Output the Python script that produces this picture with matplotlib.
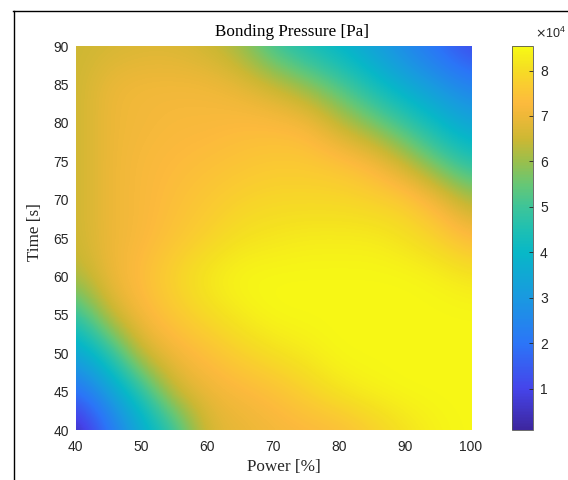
import numpy as np
import matplotlib
matplotlib.use("Agg")
import matplotlib.pyplot as plt
from matplotlib.colors import LinearSegmentedColormap
from matplotlib.lines import Line2D

# grid: columns = power, rows = time, values in 1e4 Pa
power = [40, 45, 50, 55, 60, 65, 70, 75, 80, 85, 90, 95, 100]
time_s = [40, 45, 50, 55, 60, 65, 70, 75, 80, 85, 90]
pressure_t40 = [0.09, 1.9, 3.5, 4.8, 6.7, 6.9, 7.1, 7.2, 7.3, 7.7, 8.1, 8.4, 8.5]
pressure_t45 = [1.8, 3.1, 4.7, 6.6, 7.0, 7.2, 7.4, 7.8, 8.2, 8.4, 8.5, 8.5, 8.5]
pressure_t50 = [3.3, 4.6, 6.6, 7.1, 7.4, 7.8, 8.1, 8.3, 8.5, 8.5, 8.5, 8.5, 8.5]
pressure_t55 = [4.7, 6.5, 7.2, 7.6, 8.0, 8.3, 8.5, 8.5, 8.5, 8.5, 8.5, 8.5, 8.5]
pressure_t60 = [6.2, 7.0, 7.4, 7.9, 8.3, 8.5, 8.5, 8.5, 8.5, 8.5, 8.5, 8.4, 8.2]
pressure_t65 = [6.5, 7.0, 7.2, 7.5, 7.8, 8.1, 8.2, 8.3, 8.3, 8.3, 8.1, 7.8, 7.3]
pressure_t70 = [6.5, 7.0, 7.2, 7.4, 7.6, 7.8, 7.9, 7.9, 7.9, 7.8, 7.7, 7.1, 6.2]
pressure_t75 = [6.5, 7.0, 7.2, 7.3, 7.4, 7.5, 7.6, 7.6, 7.5, 7.2, 6.4, 5.4, 4.5]
pressure_t80 = [6.5, 7.0, 7.1, 7.2, 7.2, 7.3, 7.3, 7.2, 6.4, 5.7, 4.9, 4.0, 3.3]
pressure_t85 = [6.5, 7.0, 7.1, 7.1, 7.1, 6.9, 6.5, 5.9, 5.2, 4.3, 3.5, 2.9, 2.3]
pressure_t90 = [6.5, 6.6, 6.7, 6.7, 6.5, 6.0, 4.9, 4.3, 3.8, 3.2, 2.5, 1.8, 1.0]
cbar_ticks = [1, 2, 3, 4, 5, 6, 7, 8]

pressure = np.array([pressure_t40, pressure_t45, pressure_t50, pressure_t55,
                     pressure_t60, pressure_t65, pressure_t70, pressure_t75,
                     pressure_t80, pressure_t85, pressure_t90])

vmin, vmax = 0.087, 8.54

# parula-like colours picked off the reference colour bar, keyed by value
cmap_vals = [0.087, 1.0, 2.0, 3.0, 4.0, 4.5, 5.0, 5.5, 6.0, 6.5, 7.0, 7.3, 7.7, 8.1, 8.54]
cmap_cols = [
    (0.24, 0.15, 0.62), (0.27, 0.27, 0.92), (0.17, 0.46, 0.97), (0.10, 0.60, 0.88),
    (0.03, 0.72, 0.78), (0.12, 0.75, 0.70), (0.24, 0.77, 0.60), (0.40, 0.78, 0.46),
    (0.60, 0.75, 0.30), (0.80, 0.72, 0.20), (0.93, 0.72, 0.22), (0.99, 0.73, 0.24),
    (0.98, 0.80, 0.19), (0.96, 0.88, 0.13), (0.97, 0.98, 0.08),
]
parula = LinearSegmentedColormap.from_list(
    "parula", [((v - vmin) / (vmax - vmin), c) for v, c in zip(cmap_vals, cmap_cols)], N=256)

W, H = 568, 480
fig = plt.figure(figsize=(W / 100, H / 100), dpi=100)
fig.patch.set_facecolor("white")

ax = fig.add_axes([75.7 / W, 1 - 430 / H, (471 - 75.7) / W, (430 - 46) / H])
dp = (power[1] - power[0]) / 2
dt = (time_s[1] - time_s[0]) / 2
im = ax.imshow(pressure, origin="lower", aspect="auto", cmap=parula,
               interpolation="bicubic", vmin=vmin, vmax=vmax,
               extent=[power[0] - dp, power[-1] + dp, time_s[0] - dt, time_s[-1] + dt])
ax.set_xlim(power[0], power[-1])
ax.set_ylim(time_s[0], time_s[-1])
for s in ax.spines.values():
    s.set_visible(False)
ax.set_xticks(np.arange(40, 101, 10))
ax.set_yticks(np.arange(40, 91, 5))
ax.tick_params(length=0, labelsize=10, labelcolor="#262626")
ax.tick_params(axis="x", pad=7)
ax.tick_params(axis="y", pad=5)
for lab in ax.get_xticklabels() + ax.get_yticklabels():
    lab.set_family("Liberation Sans")

serif = "Liberation Serif"
fig.text(292 / W, 1 - 32 / H, "Bonding Pressure [Pa]", ha="center", va="center",
         family=serif, fontsize=12.3, color="black")
fig.text(283.5 / W, 1 - 467 / H, "Power [%]", ha="center", va="center",
         family=serif, fontsize=12.3, color="#262626")
fig.text(35 / W, 1 - 232 / H, "Time [s]", ha="center", va="center", rotation=90,
         family=serif, fontsize=12.3, color="#262626")

cax = fig.add_axes([511.7 / W, 1 - 430 / H, (533 - 511.7) / W, (430 - 46) / H])
cb = fig.colorbar(im, cax=cax, ticks=cbar_ticks)
cb.outline.set_edgecolor("#555555")
cb.outline.set_linewidth(0.6)
cb.ax.tick_params(direction="in", length=3, width=0.6, color="#262626",
                  labelsize=10, labelcolor="#262626", pad=5)
for lab in cb.ax.get_yticklabels():
    lab.set_family("Liberation Sans")
fig.text(535 / W, 1 - 33 / H, r"$\times\mathregular{10^{4}}$", ha="left", va="center",
         family="Liberation Sans", fontsize=9, color="#262626")

# screenshot frame
fig.add_artist(Line2D([13.5 / W, 13.5 / W], [0, 1 - 11 / H], transform=fig.transFigure,
                      color="black", lw=1))
fig.add_artist(Line2D([13 / W, 1], [1 - 11 / H, 1 - 11 / H], transform=fig.transFigure,
                      color="black", lw=1))

fig.savefig("out.png", dpi=100)
